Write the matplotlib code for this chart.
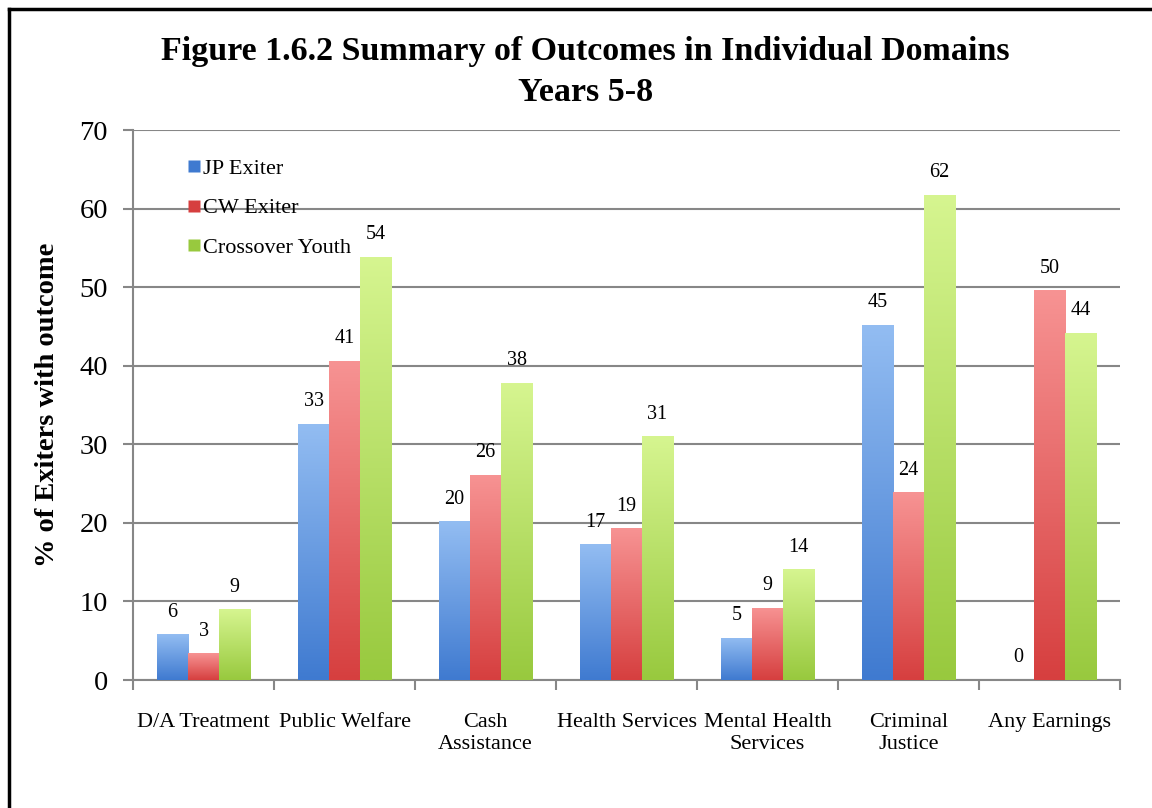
import matplotlib.pyplot as plt
import numpy as np
from matplotlib.colors import LinearSegmentedColormap
from matplotlib.lines import Line2D

categorias = ['D/A Treatment', 'Public Welfare', 'Cash\nAssistance', 'Health Services',
              'Mental Health\nServices', 'Criminal\nJustice', 'Any Earnings']
jp_exiter = [5.8, 32.6, 20.2, 17.3, 5.4, 45.2, 0.0]
cw_exiter = [3.4, 40.6, 26.1, 19.3, 9.2, 23.9, 49.6]
crossover = [9.0, 53.9, 37.8, 31.0, 14.1, 61.8, 44.2]
series = ['JP Exiter', 'CW Exiter', 'Crossover Youth']

# colores (arriba claro, abajo oscuro) como el degradado de Excel
colores = [('#93bdf2', '#3f7ad0'), ('#f79393', '#d63f3f'), ('#d6f590', '#98c93e')]

plt.rcParams['font.family'] = ['Liberation Serif', 'DejaVu Serif']

fig = plt.figure(figsize=(11.52, 8.08), dpi=100)
ax = fig.add_axes([0.1155, 0.1584, 0.9722 - 0.1155, 0.839 - 0.1584])

x = np.arange(len(categorias))
ancho = 0.22
gris = '#878787'

for i, (valores, nombre, (c_top, c_bot)) in enumerate(zip([jp_exiter, cw_exiter, crossover], series, colores)):
    pos = x + (i - 1) * ancho
    barras = ax.bar(pos, valores, ancho, color=c_bot, edgecolor='none', zorder=3, label=nombre)
    cmap = LinearSegmentedColormap.from_list('g%d' % i, [c_bot, c_top])
    grad = np.linspace(0, 1, 256).reshape(-1, 1)
    for b, v in zip(barras, valores):
        if v <= 0:
            continue
        img = ax.imshow(grad, cmap=cmap, origin='lower', aspect='auto', zorder=3,
                        extent=[b.get_x(), b.get_x() + b.get_width(), 0, v])
        img.set_clip_path(b)
    # etiquetas de datos
    for p, v in zip(pos, valores):
        ax.text(p, v + 1.6, f'{v:.0f}', ha='center', va='bottom', fontsize=14.5, zorder=4)

ax.set_xlim(-0.5, len(categorias) - 0.5)
ax.set_ylim(0, 70)
ax.set_yticks(range(0, 71, 10))
ax.set_xticks(x)
ax.set_xticklabels(categorias, fontsize=16)
ax.set_xticks(np.arange(-0.5, len(categorias)), minor=True)
ax.tick_params(axis='x', which='major', length=0, pad=24)
ax.tick_params(axis='x', which='minor', length=7, width=1.5, color=gris)
ax.tick_params(axis='y', labelsize=20.5, length=7, width=1.5, color=gris, pad=11)
ax.grid(axis='y', color=gris, linewidth=1.5, zorder=0)
ax.set_axisbelow(True)
for lado in ['top', 'right']:
    ax.spines[lado].set_visible(False)
for lado in ['left', 'bottom']:
    ax.spines[lado].set_color(gris)
    ax.spines[lado].set_linewidth(1.5)

ax.set_ylabel('% of Exiters with outcome', fontsize=20.5, fontweight='bold', labelpad=14)

handles = [Line2D([], [], marker='s', linestyle='none', markersize=9,
                  markerfacecolor=c[1], markeredgecolor='none') for c in colores]
ax.legend(handles, series, loc='upper left', bbox_to_anchor=(0.03, 0.985), frameon=False,
          fontsize=16, labelspacing=0.85, handletextpad=-0.1, handlelength=1.0)

fig.text(0.508, 0.911, 'Figure 1.6.2 Summary of Outcomes in Individual Domains\nYears 5-8',
         ha='center', va='center', fontsize=24.5, fontweight='bold', linespacing=1.4)

# marco de la figura (solo izquierda y arriba visibles)
fig.add_artist(Line2D([0.008, 1.0], [0.989, 0.989], transform=fig.transFigure, color='black', linewidth=2.5))
fig.add_artist(Line2D([0.008, 0.008], [0.0, 0.989], transform=fig.transFigure, color='black', linewidth=2.5))

fig.savefig('out.png', dpi=100)
